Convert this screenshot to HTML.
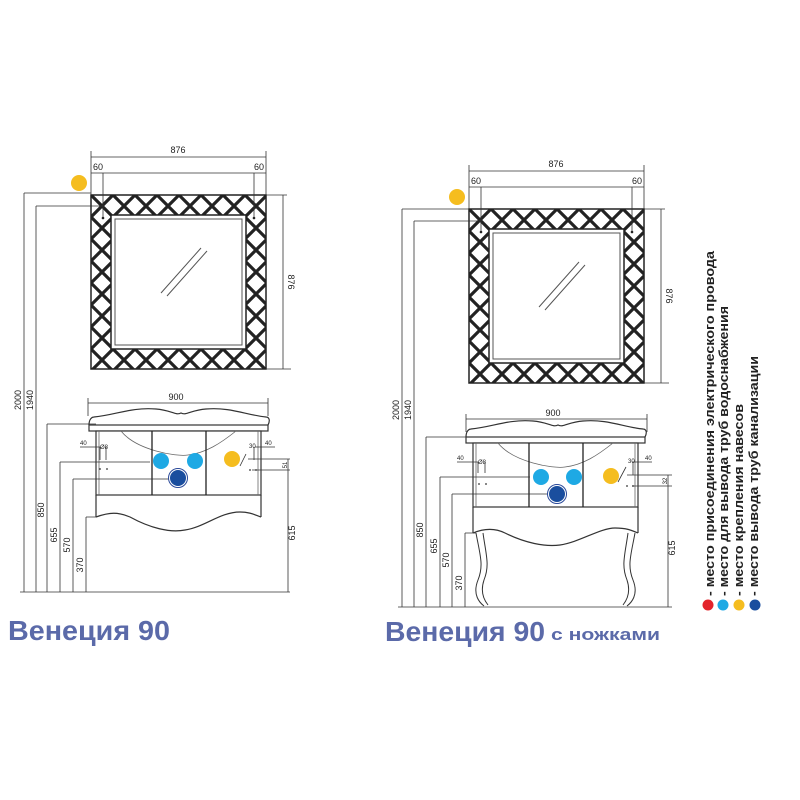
<!DOCTYPE html>
<html><head><meta charset="utf-8"><style>
html,body{margin:0;padding:0;background:#fff;width:800px;height:800px;overflow:hidden}
svg{display:block}
text{font-family:"Liberation Sans",sans-serif}
</style></head><body>
<svg width="800" height="800" viewBox="0 0 800 800" xmlns="http://www.w3.org/2000/svg">
<defs>
<pattern id="lat" width="22" height="22" patternUnits="userSpaceOnUse" x="0" y="0">
<path d="M-2,-2 L24,24 M24,-2 L-2,24" stroke="#222" stroke-width="3.2" fill="none"/>
</pattern>
<g id="mirror">
<path d="M0,0 H175 V174 H0 Z M22,22 V152 H153 V22 Z" fill="url(#lat)" fill-rule="evenodd"/>
<rect x="0" y="0" width="175" height="174" fill="none" stroke="#222" stroke-width="1.5"/>
<rect x="20" y="20" width="135" height="134" fill="#fff" stroke="#222" stroke-width="1.5"/>
<rect x="24" y="24" width="127" height="126" fill="none" stroke="#555" stroke-width="1"/>
<path d="M110,53 L70,98 M116,56 L76,101" stroke="#555" stroke-width="1"/>
<path d="M0,-38 H175 M0,-44 V0 M175,-44 V0 M0,-22 H175 M12,-22 V22 M163,-22 V22" stroke="#333" stroke-width="0.8" fill="none"/>
<circle cx="12" cy="23" r="1.3" fill="#222"/><circle cx="163" cy="23" r="1.3" fill="#222"/>
<text x="87" y="-42" font-size="9" text-anchor="middle" fill="#222">876</text>
<text x="2" y="-25" font-size="9" fill="#222">60</text>
<text x="163" y="-25" font-size="9" fill="#222">60</text>
<path d="M175,0 H196 M175,174 H200 M192,0 V174" stroke="#333" stroke-width="0.8"/>
<text transform="translate(197,87) rotate(90)" font-size="9" text-anchor="middle" fill="#222">876</text>
<circle cx="-12" cy="-12" r="8" fill="#f5bd1f"/>
</g>
<g id="cab">
<path d="M-7,0 C-7,-6 -4,-8 -2,-8 C20,-10 35,-18 60,-16 C75,-15 80,-9 85,-12 C90,-9 95,-15 110,-16 C135,-18 150,-10 170,-8 C172,-8 175,-6 172,0" fill="none" stroke="#333" stroke-width="1.2"/>
<rect x="-7" y="0" width="179" height="6" fill="#fff" stroke="#333" stroke-width="1.2"/>
<rect x="0" y="6" width="165" height="64" fill="#fff" stroke="#333" stroke-width="1.2"/>
<path d="M3,6 V70 M162,6 V70" stroke="#666" stroke-width="0.8"/>
<path d="M25,6 C40,25 80,32 92,30 C110,28 125,18 140,6" fill="none" stroke="#666" stroke-width="0.8"/>
<path d="M56,6 V70 M110,6 V70" stroke="#222" stroke-width="1.3"/>
</g>
</defs>

<!-- LEFT -->
<use href="#mirror" x="91" y="195"/>
<path d="M24,193 H91 M24,193 V592 M36,206 H103 M36,206 V592" stroke="#333" stroke-width="0.8" fill="none"/>
<text transform="translate(21,400) rotate(-90)" font-size="9" text-anchor="middle" fill="#222">2000</text>
<text transform="translate(33,400) rotate(-90)" font-size="9" text-anchor="middle" fill="#222">1940</text>
<use href="#cab" x="96" y="425"/>
<path d="M96,495 V517 M261,495 V517" stroke="#333" stroke-width="1.2"/>
<path d="M96,517 C110,512 118,512 130,517 C150,528 170,533 185,530 C205,527 220,512 240,512 C250,512 255,515 261,517" fill="none" stroke="#333" stroke-width="1.2"/>
<path d="M88,403 H268 M88,398 V416 M268,398 V416" stroke="#333" stroke-width="0.8"/>
<text x="176" y="400" font-size="9" text-anchor="middle" fill="#222">900</text>
<path d="M47,424 H96 M47,424 V592 M60,462 H150 M60,462 V592 M73,479 H170 M73,479 V592 M86,517 H96 M86,517 V592 M20,592 H290" stroke="#333" stroke-width="0.8" fill="none"/>
<text transform="translate(44,510) rotate(-90)" font-size="9" text-anchor="middle" fill="#222">850</text>
<text transform="translate(57,535) rotate(-90)" font-size="9" text-anchor="middle" fill="#222">655</text>
<text transform="translate(70,545) rotate(-90)" font-size="9" text-anchor="middle" fill="#222">570</text>
<text transform="translate(83,565) rotate(-90)" font-size="9" text-anchor="middle" fill="#222">370</text>
<path d="M248,459 H290 M252,470 H290 M288,459 V592" stroke="#333" stroke-width="0.8"/>
<text transform="translate(295,533) rotate(-90)" font-size="9" text-anchor="middle" fill="#222">615</text>
<text transform="translate(287,465) rotate(-90)" font-size="6" text-anchor="middle" fill="#222">51</text>
<path d="M80,447 H100 M100,447 V460 M106,447 V460 M255,447 H275 M254,447 V460 M246,454 L240,466" stroke="#333" stroke-width="0.8" fill="none"/>
<text x="80" y="445" font-size="6" fill="#222">40</text><text x="100" y="449" font-size="6" fill="#222">Ø8</text>
<text x="265" y="445" font-size="6" fill="#222">40</text><text x="249" y="448" font-size="6" fill="#222">30</text>
<circle cx="100" cy="469" r="0.9" fill="#333"/><circle cx="107" cy="469" r="0.9" fill="#333"/>
<circle cx="250" cy="470" r="0.9" fill="#333"/><circle cx="256" cy="470" r="0.9" fill="#333"/>
<circle cx="161" cy="461" r="8" fill="#1ea9e4"/><circle cx="195" cy="461" r="8" fill="#1ea9e4"/>
<circle cx="178" cy="478" r="9.5" fill="#fff" stroke="#2b4a9a" stroke-width="1"/>
<circle cx="178" cy="478" r="8" fill="#1a4e9e"/>
<circle cx="232" cy="459" r="8" fill="#f5bd1f"/>
<text x="8" y="640" font-size="28" font-weight="bold" fill="#5b6aa9" textLength="162" lengthAdjust="spacingAndGlyphs">Венеция 90</text>

<!-- RIGHT -->
<use href="#mirror" x="469" y="209"/>
<path d="M402,209 H469 M402,209 V607 M414,221 H481 M414,221 V607" stroke="#333" stroke-width="0.8" fill="none"/>
<text transform="translate(399,410) rotate(-90)" font-size="9" text-anchor="middle" fill="#222">2000</text>
<text transform="translate(411,410) rotate(-90)" font-size="9" text-anchor="middle" fill="#222">1940</text>
<use href="#cab" x="473" y="437"/>
<path d="M473,507 V533 M638,507 V533" stroke="#333" stroke-width="1.2"/>
<path d="M473,533 C485,528 495,528 505,533 C525,543 545,547 560,545 C580,542 600,528 615,528 C628,528 633,531 638,533" fill="none" stroke="#333" stroke-width="1.2"/>
<path d="M476,533 C480,555 484,565 478,580 C472,595 480,603 484,606 M483,533 C486,555 490,565 484,580 C480,592 484,600 488,605 M635,533 C631,555 627,565 633,580 C639,595 631,603 627,606 M628,533 C625,555 621,565 627,580 C631,592 627,600 623,605" fill="none" stroke="#333" stroke-width="1"/>
<path d="M466,419 H647 M466,414 V432 M647,414 V432" stroke="#333" stroke-width="0.8"/>
<text x="553" y="416" font-size="9" text-anchor="middle" fill="#222">900</text>
<path d="M426,437 H473 M426,437 V607 M440,477 H530 M440,477 V607 M452,494 H550 M452,494 V607 M465,533 H476 M465,533 V607 M398,607 H672" stroke="#333" stroke-width="0.8" fill="none"/>
<text transform="translate(423,530) rotate(-90)" font-size="9" text-anchor="middle" fill="#222">850</text>
<text transform="translate(437,546) rotate(-90)" font-size="9" text-anchor="middle" fill="#222">655</text>
<text transform="translate(449,560) rotate(-90)" font-size="9" text-anchor="middle" fill="#222">570</text>
<text transform="translate(462,583) rotate(-90)" font-size="9" text-anchor="middle" fill="#222">370</text>
<path d="M627,475 H672 M632,486 H672 M668,475 V607" stroke="#333" stroke-width="0.8"/>
<text transform="translate(675,548) rotate(-90)" font-size="9" text-anchor="middle" fill="#222">615</text>
<text transform="translate(667,481) rotate(-90)" font-size="6" text-anchor="middle" fill="#222">32</text>
<path d="M457,462 H478 M478,462 V473 M485,462 V473 M632,462 H652 M633,462 V475 M626,467 L618,482" stroke="#333" stroke-width="0.8" fill="none"/>
<text x="457" y="460" font-size="6" fill="#222">40</text><text x="478" y="464" font-size="6" fill="#222">Ø8</text>
<text x="645" y="460" font-size="6" fill="#222">40</text><text x="628" y="463" font-size="6" fill="#222">30</text>
<circle cx="479" cy="484" r="0.9" fill="#333"/><circle cx="486" cy="484" r="0.9" fill="#333"/>
<circle cx="627" cy="486" r="0.9" fill="#333"/><circle cx="633" cy="486" r="0.9" fill="#333"/>
<circle cx="541" cy="477" r="8" fill="#1ea9e4"/><circle cx="574" cy="477" r="8" fill="#1ea9e4"/>
<circle cx="557" cy="494" r="9.5" fill="#fff" stroke="#2b4a9a" stroke-width="1"/>
<circle cx="557" cy="494" r="8" fill="#1a4e9e"/>
<circle cx="611" cy="476" r="8" fill="#f5bd1f"/>
<text x="385" y="641" font-size="28" font-weight="bold" fill="#5b6aa9" textLength="160" lengthAdjust="spacingAndGlyphs">Венеция 90</text>
<text x="551" y="640" font-size="17" font-weight="bold" fill="#5b6aa9" textLength="109" lengthAdjust="spacingAndGlyphs">с ножками</text>

<!-- LEGEND -->
<g font-size="13" font-weight="bold" fill="#222">
<text transform="translate(714,596) rotate(-90)" textLength="345" lengthAdjust="spacingAndGlyphs">- место присоединения электрического провода</text>
<text transform="translate(728,596) rotate(-90)" textLength="290" lengthAdjust="spacingAndGlyphs">- место для вывода труб водоснабжения</text>
<text transform="translate(743,596) rotate(-90)" textLength="192" lengthAdjust="spacingAndGlyphs">- место крепления навесов</text>
<text transform="translate(758,596) rotate(-90)" textLength="240" lengthAdjust="spacingAndGlyphs">- место вывода труб канализации</text>
</g>
<circle cx="708" cy="605" r="5.5" fill="#e3242b"/>
<circle cx="723" cy="605" r="5.5" fill="#1ea9e4"/>
<circle cx="739" cy="605" r="5.5" fill="#f5bd1f"/>
<circle cx="755" cy="605" r="5.5" fill="#1a4e9e"/>
</svg>
</body></html>
